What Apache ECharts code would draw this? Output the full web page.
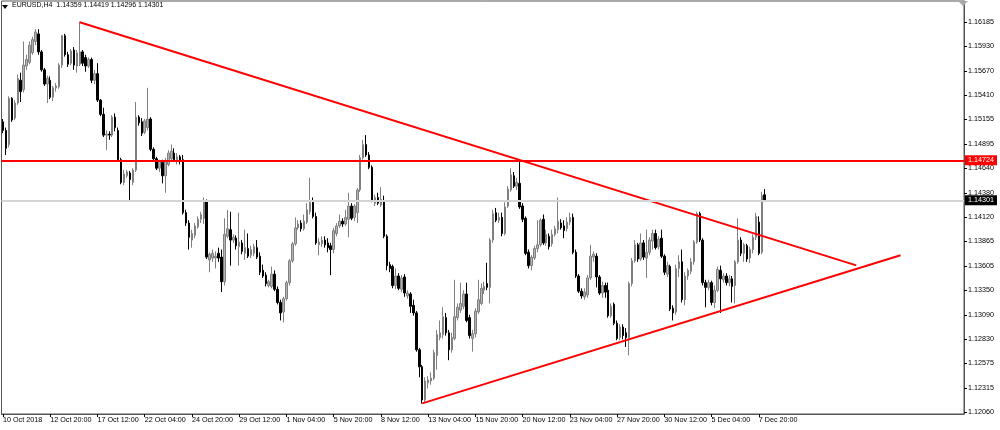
<!DOCTYPE html>
<html><head><meta charset="utf-8">
<script src="https://cdn.jsdelivr.net/npm/echarts@6/dist/echarts.min.js"></script>
<style>html,body{margin:0;padding:0;background:#fff}#c{width:1000px;height:430px}</style>
</head><body><div id="c"></div>
<script>
const dateLabels = ['10 Oct 2018','12 Oct 20:00','17 Oct 12:00','22 Oct 04:00','24 Oct 20:00','29 Oct 12:00','1 Nov 04:00','5 Nov 20:00','8 Nov 12:00','13 Nov 04:00','15 Nov 20:00','20 Nov 12:00','23 Nov 04:00','27 Nov 20:00','30 Nov 12:00','5 Dec 04:00','7 Dec 20:00'];
const priceTicks = [1.16185,1.15930,1.15670,1.15410,1.15155,1.14895,1.14640,1.14380,1.14120,1.13865,1.13605,1.13350,1.13090,1.12830,1.12575,1.12315,1.12060];
const headerText = 'EURUSD,H4  1.14359 1.14419 1.14296 1.14301';

const opens = [
1.1513,1.1504,1.1489,1.1538,1.1517,1.1533,1.1557,1.1547,1.1572,1.1576,
1.1586,1.1598,1.1606,1.1587,1.1568,1.1553,1.1557,1.1539,1.1549,1.1550,
1.1573,1.1604,1.1584,1.1575,1.1589,1.1572,1.1574,1.1587,1.1581,1.1572,
1.1579,1.1557,1.1564,1.1536,1.1521,1.1499,1.1500,1.1499,1.1518,1.1504,
1.1473,1.1449,1.1456,1.1459,1.1449,1.1462,1.1518,1.1513,1.1502,1.1507,
1.1516,1.1484,1.1474,1.1464,1.1470,1.1456,1.1468,1.1474,1.1480,1.1473,
1.1476,1.1473,1.1417,1.1406,1.1388,1.1393,1.1402,1.1410,1.1411,1.1429,
1.1367,1.1369,1.1369,1.1374,1.1370,1.1344,1.1392,1.1399,1.1388,1.1390,
1.1381,1.1385,1.1374,1.1379,1.1372,1.1374,1.1380,1.1371,1.1356,1.1351,
1.1340,1.1339,1.1352,1.1336,1.1322,1.1312,1.1326,1.1343,1.1366,1.1384,
1.1401,1.1406,1.1400,1.1407,1.1418,1.1428,1.1413,1.1383,1.1384,1.1388,
1.1385,1.1382,1.1378,1.1395,1.1403,1.1408,1.1405,1.1410,1.1424,1.1412,
1.1417,1.1441,1.1475,1.1489,1.1478,1.1465,1.1427,1.1433,1.1425,1.1430,
1.1392,1.1362,1.1360,1.1340,1.1350,1.1336,1.1349,1.1329,1.1331,1.1319,
1.1311,1.1272,1.1254,1.1219,1.1237,1.1239,1.1242,1.1266,1.1285,1.1288,
1.1306,1.1290,1.1272,1.1284,1.1306,1.1314,1.1318,1.1331,1.1306,1.1284,
1.1289,1.1312,1.1321,1.1335,1.1342,1.1338,1.1388,1.1417,1.1409,1.1412,
1.1395,1.1424,1.1441,1.1456,1.1445,1.1448,1.1424,1.1411,1.1375,1.1361,
1.1369,1.1379,1.1383,1.1410,1.1385,1.1392,1.1384,1.1394,1.1399,1.1406,
1.1403,1.1400,1.1407,1.1412,1.1375,1.1350,1.1334,1.1328,1.1330,1.1348,
1.1370,1.1371,1.1349,1.1332,1.1340,1.1335,1.1308,1.1320,1.1300,1.1285,
1.1296,1.1290,1.1285,1.1342,1.1366,1.1383,1.1368,1.1385,1.1369,1.1375,
1.1387,1.1395,1.1381,1.1390,1.1371,1.1352,1.1360,1.1316,1.1312,1.1358,
1.1365,1.1325,1.1350,1.1355,1.1365,1.1386,1.1416,1.1388,1.1343,1.1338,
1.1343,1.1322,1.1335,1.1356,1.1346,1.1350,1.1343,1.1347,1.1340,1.1365,
1.1388,1.1374,1.1382,1.1369,1.1378,1.1391,1.1407,1.1375,1.14359];
const closes = [
1.1504,1.1485,1.1538,1.1515,1.1533,1.1559,1.1545,1.1573,1.1579,1.1594,
1.1600,1.1608,1.1587,1.1568,1.1553,1.1559,1.1539,1.1549,1.1551,1.1573,
1.1604,1.1584,1.1574,1.1588,1.1573,1.1586,1.1587,1.1575,1.1572,1.1579,
1.1557,1.1564,1.1536,1.1521,1.1499,1.1500,1.1499,1.1518,1.1507,1.1473,
1.1449,1.1458,1.1460,1.1452,1.1462,1.1518,1.1512,1.1501,1.1514,1.1516,
1.1484,1.1474,1.1464,1.1471,1.1456,1.1472,1.1480,1.1482,1.1473,1.1476,
1.1471,1.1417,1.1406,1.1391,1.1395,1.1403,1.1410,1.1415,1.1430,1.1370,
1.1373,1.1374,1.1371,1.1369,1.1344,1.1394,1.1400,1.1388,1.1391,1.1382,
1.1386,1.1376,1.1380,1.1371,1.1378,1.1381,1.1370,1.1354,1.1350,1.1342,
1.1344,1.1352,1.1336,1.1322,1.1311,1.1326,1.1343,1.1366,1.1384,1.1401,
1.1405,1.1400,1.1408,1.1420,1.1428,1.1413,1.1385,1.1386,1.1388,1.1383,
1.1380,1.1378,1.1398,1.1403,1.1408,1.1405,1.1412,1.1424,1.1411,1.1424,
1.1441,1.1475,1.1489,1.1478,1.1465,1.1430,1.1433,1.1427,1.1431,1.1392,
1.1361,1.1358,1.1340,1.1350,1.1337,1.1348,1.1332,1.1332,1.1318,1.1311,
1.1272,1.1254,1.1219,1.1239,1.1240,1.1242,1.1269,1.1288,1.1290,1.1307,
1.1290,1.1272,1.1285,1.1307,1.1317,1.1321,1.1331,1.1303,1.1287,1.1289,
1.1313,1.1325,1.1337,1.1339,1.1338,1.1388,1.1416,1.1409,1.1412,1.1395,
1.1423,1.1442,1.1457,1.1445,1.1449,1.1423,1.1410,1.1374,1.1361,1.1370,
1.1379,1.1383,1.1409,1.1385,1.1394,1.1381,1.1394,1.1400,1.1408,1.1401,
1.1398,1.1407,1.1412,1.1375,1.1350,1.1334,1.1329,1.1333,1.1348,1.1371,
1.1373,1.1349,1.1332,1.1340,1.1333,1.1308,1.1318,1.1300,1.1284,1.1296,
1.1287,1.1285,1.1342,1.1366,1.1383,1.1368,1.1385,1.1370,1.1375,1.1388,
1.1395,1.1380,1.1389,1.1371,1.1354,1.1361,1.1315,1.1311,1.1358,1.1365,
1.1325,1.1350,1.1356,1.1365,1.1386,1.1416,1.1388,1.1343,1.1338,1.1343,
1.1322,1.1335,1.1357,1.1347,1.1350,1.1343,1.1347,1.1339,1.1365,1.1388,
1.1374,1.1383,1.1368,1.1378,1.1391,1.1413,1.1374,1.1435,1.14301];
const lows = [
1.1501,1.1478,1.1486,1.1513,1.1515,1.1531,1.1534,1.1544,1.1568,1.1574,
1.1584,1.1594,1.1584,1.1566,1.1551,1.1533,1.1537,1.1535,1.1545,1.1548,
1.1570,1.1582,1.1571,1.1573,1.1568,1.1565,1.1572,1.1572,1.1566,1.1570,
1.1554,1.1553,1.1534,1.1519,1.1497,1.1483,1.1494,1.1497,1.1503,1.1471,
1.1447,1.1446,1.1454,1.1430,1.1446,1.1460,1.1509,1.1498,1.1500,1.1504,
1.1482,1.1472,1.1462,1.1460,1.1448,1.1438,1.1466,1.1472,1.1471,1.1468,
1.1468,1.1415,1.1403,1.1378,1.1380,1.1390,1.1400,1.1406,1.1405,1.1368,
1.1354,1.1365,1.1358,1.1365,1.1333,1.1340,1.1390,1.1361,1.1385,1.1378,
1.1361,1.1373,1.1367,1.1369,1.1369,1.1371,1.1368,1.1351,1.1348,1.1339,
1.1338,1.1337,1.1334,1.1320,1.1303,1.1301,1.1324,1.1340,1.1364,1.1382,
1.1399,1.1397,1.1398,1.1405,1.1415,1.1411,1.1383,1.1372,1.1381,1.1380,
1.1375,1.1351,1.1374,1.1392,1.1401,1.1402,1.1403,1.1391,1.1409,1.1408,
1.1406,1.1439,1.1473,1.1476,1.1463,1.1428,1.1424,1.1425,1.1423,1.1390,
1.1356,1.1354,1.1337,1.1336,1.1335,1.1333,1.1328,1.1326,1.1311,1.1308,
1.1270,1.1243,1.1215,1.1216,1.1231,1.1235,1.1240,1.1251,1.1282,1.1284,
1.1287,1.1261,1.1269,1.1282,1.1303,1.1311,1.1315,1.1301,1.1284,1.1270,
1.1285,1.1310,1.1319,1.1331,1.1335,1.1321,1.1385,1.1407,1.1406,1.1392,
1.1393,1.1422,1.1439,1.1443,1.1441,1.1421,1.1407,1.1372,1.1358,1.1356,
1.1367,1.1375,1.1381,1.1383,1.1382,1.1378,1.1381,1.1392,1.1395,1.1399,
1.1390,1.1397,1.1404,1.1373,1.1348,1.1332,1.1326,1.1325,1.1327,1.1346,
1.1365,1.1338,1.1330,1.1327,1.1327,1.1306,1.1306,1.1298,1.1282,1.1282,
1.1283,1.1275,1.1266,1.1339,1.1364,1.1365,1.1366,1.1367,1.1348,1.1372,
1.1378,1.1378,1.1378,1.1369,1.1351,1.1349,1.1313,1.1303,1.1309,1.1349,
1.1322,1.1319,1.1346,1.1352,1.1362,1.1384,1.1386,1.1340,1.1317,1.1335,
1.1319,1.1316,1.1333,1.1311,1.1343,1.1340,1.1339,1.1322,1.1321,1.1363,
1.1371,1.1365,1.1365,1.1364,1.1374,1.1388,1.1372,1.1373,1.14296];
const highs = [
1.1516,1.1507,1.1540,1.1539,1.1536,1.1563,1.1565,1.1598,1.1584,1.1598,
1.1603,1.1611,1.1611,1.1589,1.1570,1.1562,1.1561,1.1551,1.1554,1.1575,
1.1605,1.1606,1.1587,1.1590,1.1592,1.1589,1.1619,1.1589,1.1584,1.1581,
1.1581,1.1568,1.1575,1.1537,1.1528,1.1504,1.1503,1.1520,1.1522,1.1507,
1.1475,1.1462,1.1462,1.1461,1.1464,1.1534,1.1520,1.1517,1.1516,1.1549,
1.1518,1.1486,1.1476,1.1473,1.1473,1.1475,1.1483,1.1489,1.1485,1.1480,
1.1478,1.1478,1.1420,1.1409,1.1399,1.1406,1.1413,1.1418,1.1433,1.1431,
1.1375,1.1378,1.1376,1.1380,1.1378,1.1411,1.1420,1.1418,1.1394,1.1393,
1.1417,1.1388,1.1399,1.1395,1.1382,1.1384,1.1388,1.1375,1.1362,1.1354,
1.1346,1.1360,1.1356,1.1339,1.1325,1.1328,1.1345,1.1368,1.1386,1.1412,
1.1409,1.1409,1.1415,1.1427,1.1454,1.1433,1.1417,1.1390,1.1392,1.1392,
1.1390,1.1385,1.1401,1.1406,1.1415,1.1411,1.1420,1.1438,1.1427,1.1426,
1.1443,1.1478,1.1494,1.1499,1.1481,1.1467,1.1436,1.1438,1.1444,1.1435,
1.1394,1.1365,1.1362,1.1358,1.1353,1.1351,1.1352,1.1335,1.1333,1.1325,
1.1313,1.1274,1.1256,1.1243,1.1244,1.1248,1.1272,1.1293,1.1303,1.1317,
1.1311,1.1293,1.1290,1.1346,1.1321,1.1343,1.1335,1.1343,1.1309,1.1293,
1.1316,1.1346,1.1342,1.1344,1.1364,1.1390,1.1420,1.1422,1.1417,1.1417,
1.1428,1.1445,1.1464,1.1460,1.1454,1.1473,1.1427,1.1413,1.1378,1.1372,
1.1382,1.1409,1.1411,1.1415,1.1399,1.1395,1.1399,1.1403,1.1433,1.1410,
1.1409,1.1412,1.1417,1.1416,1.1378,1.1352,1.1337,1.1337,1.1351,1.1383,
1.1376,1.1374,1.1351,1.1344,1.1343,1.1343,1.1321,1.1322,1.1303,1.1299,
1.1299,1.1295,1.1344,1.1369,1.1388,1.1385,1.1395,1.1388,1.1399,1.1391,
1.1399,1.1399,1.1392,1.1399,1.1373,1.1365,1.1362,1.1319,1.1362,1.1372,
1.1378,1.1354,1.1358,1.1369,1.1388,1.1418,1.1418,1.1390,1.1346,1.1346,
1.1345,1.1340,1.1360,1.1361,1.1353,1.1353,1.1351,1.1350,1.1367,1.1411,
1.1391,1.1385,1.1384,1.1381,1.1394,1.1417,1.1413,1.1439,1.14419];

const levelPrice = 1.14724;
const lastPrice = 1.14301;
const resistanceLine = [[26, 1.16183], [289, 1.13613]];
const supportLine = [[142, 1.12153], [304, 1.13720]];
const slotCount = 326;
const labelStep = 16;

const categories = [];
for (let i = 0; i < slotCount; i++) categories.push('b' + i);
const candles = opens.map((o, i) => [o, closes[i], lows[i], highs[i]]);
const showTick = (i) => i % labelStep === 0 && i / labelStep < dateLabels.length;
const FONT = 'Liberation Sans';

const chart = echarts.init(document.getElementById('c'), null, {renderer: 'canvas'});
chart.setOption({
  animation: false,
  backgroundColor: '#ffffff',
  grid: {left: 0, right: 36, top: 1, bottom: 16, show: true, borderColor: '#555', borderWidth: 1, backgroundColor: '#fff'},
  graphic: [
    {type: 'polygon', shape: {points: [[2, 5], [8, 5], [5, 9]]}, style: {fill: '#000'}, z: 100},
    {type: 'text', left: 12, top: 2, style: {text: headerText, font: '7px "' + FONT + '"', fill: '#000'}, z: 100},
    {type: 'polygon', shape: {points: [[958, 1], [968, 1], [963, 6]]}, style: {fill: '#a8a8a8'}, z: 100}
  ],
  xAxis: {
    type: 'category', data: categories, boundaryGap: true,
    axisLine: {show: true, lineStyle: {color: '#555', width: 1}},
    axisTick: {show: true, alignWithLabel: true, interval: showTick, length: 3, lineStyle: {color: '#000'}},
    axisLabel: {interval: showTick, formatter: (v, i) => dateLabels[i / labelStep], align: 'left', margin: 3,
      fontSize: 7.2, fontFamily: FONT, color: '#000', hideOverlap: false},
    splitLine: {show: false}
  },
  yAxis: {
    type: 'value', position: 'right', min: 1.12041, max: 1.16408, scale: true,
    splitLine: {show: false},
    axisLine: {show: true, lineStyle: {color: '#555'}},
    axisTick: {show: true, customValues: priceTicks, length: 3, lineStyle: {color: '#000'}},
    axisLabel: {customValues: priceTicks, formatter: (v) => v.toFixed(5), fontSize: 7.2, fontFamily: FONT, color: '#000', margin: 4}
  },
  series: [
    {
      type: 'line', data: [], z: 1, silent: true,
      markLine: {silent: true, symbol: ['none', 'none'], animation: false, precision: 5,
        data: [{yAxis: lastPrice}],
        lineStyle: {color: '#d4d4d4', width: 2, type: 'solid'},
        label: {show: true, position: 'end', distance: 1, formatter: lastPrice.toFixed(5), color: '#fff',
          backgroundColor: '#000', padding: [2, 3, 1, 3], fontSize: 7.2, fontFamily: FONT}}
    },
    {
      type: 'candlestick', data: candles, z: 2, barWidth: 2,
      itemStyle: {color: '#b4b4b4', color0: '#000000', borderColor: '#808080', borderColor0: '#000000', borderWidth: 1}
    },
    {
      type: 'line', data: resistanceLine, z: 3, symbol: 'none', silent: true,
      lineStyle: {color: '#ff0000', width: 2},
      markLine: {silent: true, symbol: ['none', 'none'], animation: false, precision: 5,
        data: [{yAxis: levelPrice}],
        lineStyle: {color: '#ff0000', width: 2, type: 'solid'},
        label: {show: true, position: 'end', distance: 1, formatter: levelPrice.toFixed(5), color: '#fff',
          backgroundColor: '#ff0000', padding: [2, 3, 1, 3], fontSize: 7.2, fontFamily: FONT}}
    },
    {
      type: 'line', data: supportLine, z: 3, symbol: 'none', silent: true,
      lineStyle: {color: '#ff0000', width: 2}
    }
  ]
});
</script></body></html>
